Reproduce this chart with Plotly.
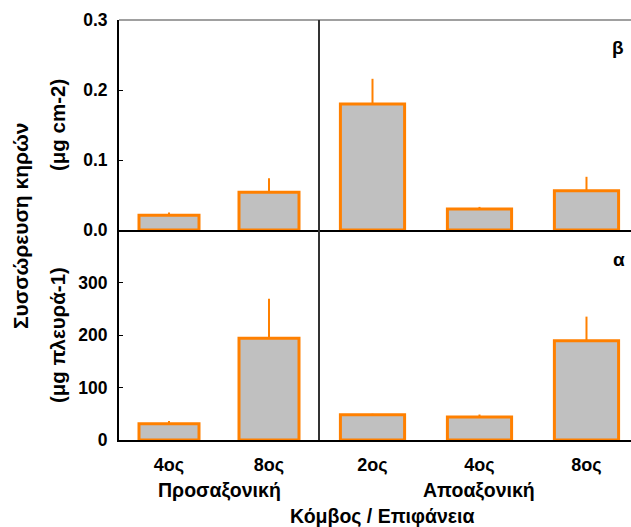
import plotly.graph_objects as go

# ---- data ----
ad_nodes = ["4ος", "8ος"]          # Προσαξονική
ab_nodes = ["2ος", "4ος", "8ος"]   # Αποαξονική

# top panel (β): μg cm-2
ad_area = [0.021, 0.054]
ad_area_err = [0.004, 0.020]
ab_area = [0.180, 0.030, 0.056]
ab_area_err = [0.036, 0.003, 0.020]

# bottom panel (α): μg πλευρά-1
ad_side = [31, 194]
ad_side_err = [5, 75]
ab_side = [48, 44, 189]
ab_side_err = [2, 4.5, 46]

top_ticks = [0, 0.1, 0.2, 0.3]
top_ticktext = ["0.0", "0.1", "0.2", "0.3"]
bottom_ticks = [0, 100, 200, 300]

FILL = "#c0c0c0"
EDGE = "#ff8000"
FONT = "Liberation Sans"

W, H = 631, 527
L, R, T, B = 119, 0, 20, 87
split = 200 / (W - L - R)

fig = go.Figure()


def add_bar(x, y, err, xa, ya):
    fig.add_trace(go.Bar(
        x=x, y=y, xaxis=xa, yaxis=ya,
        marker=dict(color=FILL, line=dict(color=EDGE, width=3)),
        error_y=dict(type="data", array=err, arrayminus=[0] * len(err),
                     symmetric=False, color=EDGE, thickness=2, width=0),
        showlegend=False, hoverinfo="skip",
    ))


add_bar(ad_nodes, ad_area, ad_area_err, "x", "y")
add_bar(ab_nodes, ab_area, ab_area_err, "x2", "y2")
add_bar(ad_nodes, ad_side, ad_side_err, "x3", "y3")
add_bar(ab_nodes, ab_side, ab_side_err, "x4", "y4")

ytickfont = dict(family=FONT, size=17.5, color="black", weight="bold")
xtickfont = dict(family=FONT, size=18, color="black", weight="bold")

xcommon = dict(type="category", showgrid=False, zeroline=False, ticks="",
               showline=True, linecolor="black", linewidth=2,
               tickfont=xtickfont)
ycommon = dict(showgrid=False, zeroline=False, showline=True,
               linecolor="black", linewidth=2, ticks="inside", ticklen=4,
               tickcolor="black", tickfont=ytickfont, ticklabelstandoff=6)
fig.update_layout(
    width=W, height=H,
    margin=dict(l=L, r=R, t=T, b=B, pad=0),
    plot_bgcolor="white", paper_bgcolor="white",
    bargap=0.4,
    xaxis=dict(xcommon, domain=[0, split], range=[-0.5, 1.5],
               showticklabels=False, anchor="y"),
    xaxis2=dict(xcommon, domain=[split, 1], range=[-0.5, 2.416],
                showticklabels=False, anchor="y2"),
    xaxis3=dict(xcommon, domain=[0, split], range=[-0.5, 1.5],
                anchor="y3", ticklabelstandoff=7),
    xaxis4=dict(xcommon, domain=[split, 1], range=[-0.5, 2.416],
                anchor="y4", ticklabelstandoff=7),
    yaxis=dict(ycommon, domain=[0.5, 1], range=[0, 0.3], tickvals=top_ticks,
               ticktext=top_ticktext, anchor="x"),
    yaxis2=dict(domain=[0.5, 1], range=[0, 0.3], anchor="x2",
                showgrid=False, zeroline=False, showticklabels=False),
    yaxis3=dict(ycommon, domain=[0, 0.5], range=[0, 400],
                tickvals=bottom_ticks, anchor="x3"),
    yaxis4=dict(domain=[0, 0.5], range=[0, 400], anchor="x4",
                showgrid=False, zeroline=False, showticklabels=False),
)

# frame lines
fig.add_shape(type="line", xref="paper", yref="paper", x0=0, x1=1, y0=1, y1=1,
              line=dict(color="#808080", width=1.5))
fig.add_shape(type="line", xref="paper", yref="paper", x0=split, x1=split,
              y0=0, y1=1, line=dict(color="#333333", width=2))


def px_x(p):
    return (p - L) / (W - L - R)


def px_y(p):
    return (H - B - p) / (H - T - B)


def ann(text, x, y, size, angle=0):
    fig.add_annotation(text=text, xref="paper", yref="paper",
                       x=px_x(x), y=px_y(y), xanchor="center",
                       yanchor="middle", showarrow=False, textangle=angle,
                       font=dict(family=FONT, size=size, color="black",
                                 weight="bold"))


ann("Προσαξονική", 219, 490, 19.5)
ann("Αποαξονική", 479, 490, 19.5)
ann("Κόμβος / Επιφάνεια", 382, 516, 19.5)
ann("Συσσώρευση κηρών", 20, 226, 21, -90)
ann("(μg cm-2)", 57, 125, 20.5, -90)
ann("(μg πλευρά-1)", 57, 335, 20.5, -90)
ann("β", 618, 48, 19)
ann("α", 619, 259, 19)

fig.write_html("out.html")
